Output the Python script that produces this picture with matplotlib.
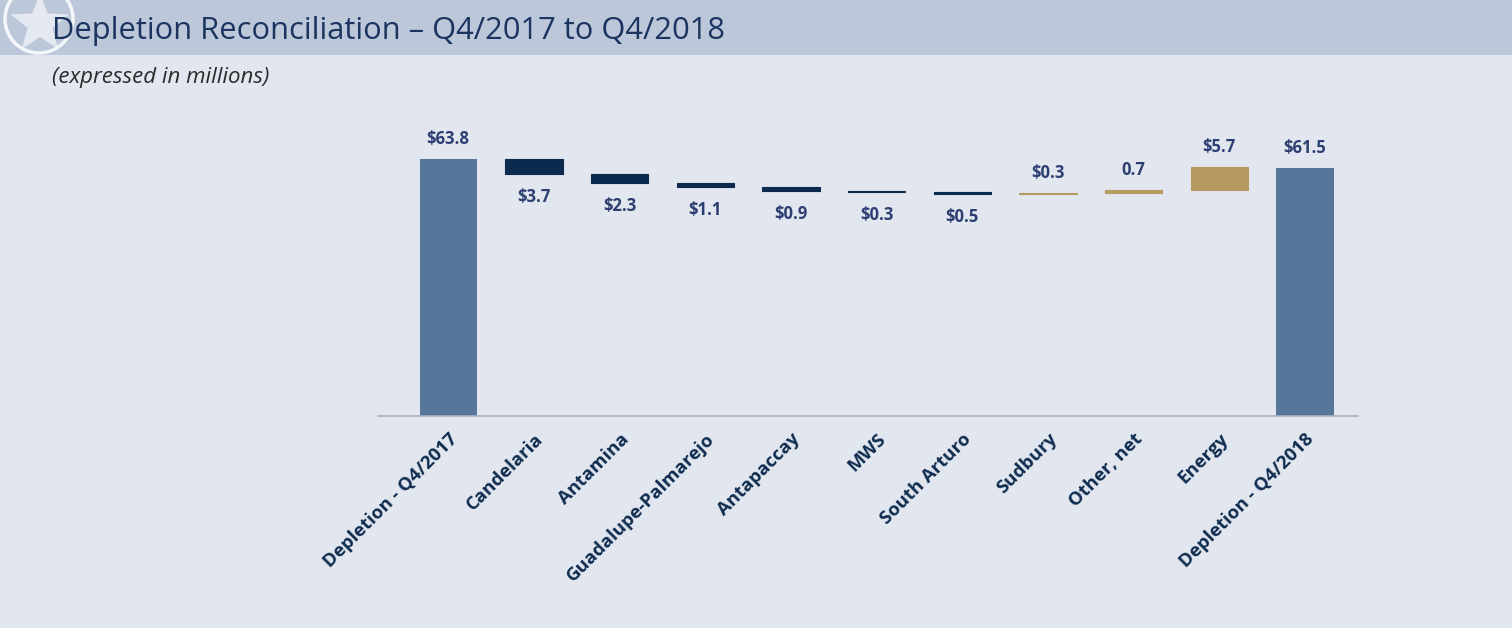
import matplotlib
matplotlib.use("Agg")
import matplotlib.pyplot as plt
import numpy as np
from matplotlib.patches import Circle, Rectangle
from matplotlib.path import Path
from matplotlib.patches import PathPatch

categories = ["Depletion - Q4/2017", "Candelaria", "Antamina", "Guadalupe-Palmarejo",
              "Antapaccay", "MWS", "South Arturo", "Sudbury", "Other, net", "Energy",
              "Depletion - Q4/2018"]
changes = [63.8, -3.7, -2.3, -1.1, -0.9, -0.3, -0.5, 0.3, 0.7, 5.7, 61.5]
kinds = ["total", "dec", "dec", "dec", "dec", "dec", "dec", "inc", "inc", "inc", "total"]
value_labels = ["$63.8", "$3.7", "$2.3", "$1.1", "$0.9", "$0.3", "$0.5", "$0.3", "0.7", "$5.7", "$61.5"]

BG = "#e1e6ef"
BAND = "#bcc8da"
C_TOTAL = "#56779a"
C_DEC = "#0b2a4d"
C_INC = "#b49a5e"
LABEL_C = "#2d3f72"
TICK_C = "#0f2c4f"

W, H = 1512, 628
fig = plt.figure(figsize=(W / 100, H / 100), dpi=100, facecolor=BG)

# decoration overlay
deco = fig.add_axes([0, 0, 1, 1])
deco.set_xlim(0, W)
deco.set_ylim(H, 0)
deco.axis("off")
deco.add_patch(Rectangle((0, 0), W, 55, facecolor=BAND, edgecolor="none"))
band_clip = Rectangle((0, 0), W, 55, transform=deco.transData)
circ = Circle((39, 19), 34, facecolor="none", edgecolor="white", lw=2.5, alpha=0.85)
deco.add_patch(circ)
circ.set_clip_path(band_clip)
r_out, r_in = 31, 13
pts = []
for k in range(10):
    ang = np.pi / 2 + k * np.pi / 5
    r = r_out if k % 2 == 0 else r_in
    pts.append((40 + r * np.cos(ang), 24 - r * np.sin(ang)))
pts.append(pts[0])
star = PathPatch(Path(pts, closed=True), facecolor="white", edgecolor="none", alpha=0.6)
deco.add_patch(star)
star.set_clip_path(band_clip)

fig.text(52 / W, 1 - 31 / H, "Depletion Reconciliation – Q4/2017 to Q4/2018",
         fontsize=22.2, color="#1b3560", family="Open Sans", fontweight="normal",
         va="center", ha="left")
fig.text(52 / W, 1 - 77 / H, "(expressed in millions)", fontsize=16, style="italic",
         color="#2a2a2a", family="Open Sans", va="center", ha="left")

# main axes
ax = fig.add_axes([378 / W, (H - 416) / H, 980 / W, 282.1 / H])
ax.set_facecolor("none")
x = np.arange(len(categories))
running = 0.0
for i, (v, k) in enumerate(zip(changes, kinds)):
    if k == "total":
        bottom, height, color = 0, v, C_TOTAL
        running = v
        top, low = v, 0
    else:
        new = running + v
        bottom = min(running, new)
        height = abs(v)
        color = C_DEC if k == "dec" else C_INC
        top, low = max(running, new), min(running, new)
        running = new
    ax.bar(x[i], height, bottom=bottom, width=0.67, color=color,
           edgecolor=color if k != "total" else "none", linewidth=0.8)
    if k == "dec":
        ax.annotate(value_labels[i], (x[i], low), xytext=(0, -10), textcoords="offset points",
                    ha="center", va="top", fontsize=12, fontweight="bold", color=LABEL_C,
                    family="Open Sans")
    else:
        ax.annotate(value_labels[i], (x[i], top), xytext=(0, 8), textcoords="offset points",
                    ha="center", va="bottom", fontsize=12, fontweight="bold", color=LABEL_C,
                    family="Open Sans")

ax.set_xlim(-0.82, 10.62)
ax.set_ylim(0, 70)
for s in ["top", "right", "left"]:
    ax.spines[s].set_visible(False)
ax.spines["bottom"].set_color("#a9b1bf")
ax.spines["bottom"].set_linewidth(1.2)
ax.set_yticks([])
ax.set_xticks(x)
ax.set_xticklabels(categories, rotation=45, ha="right", rotation_mode="anchor",
                   fontsize=13.3, fontweight="bold", color=TICK_C, family="Open Sans")
ax.tick_params(axis="x", length=0, pad=10)

fig.savefig("out.png", dpi=100, facecolor=BG)
